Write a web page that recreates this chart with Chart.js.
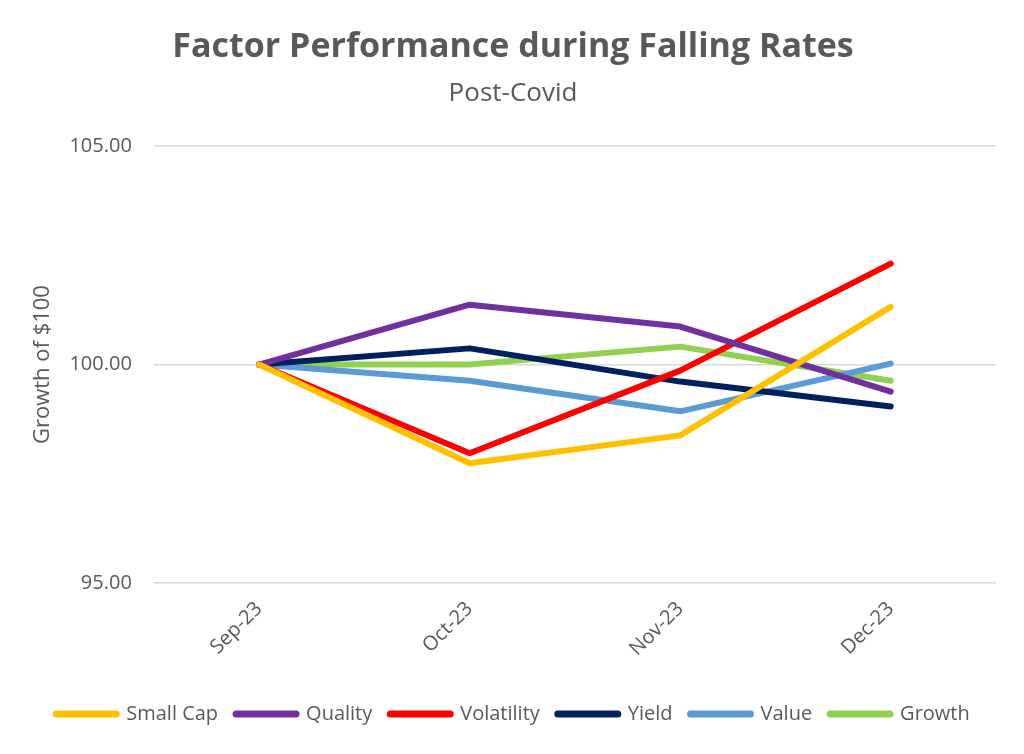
<!DOCTYPE html>
<html>
<head>
<meta charset="utf-8">
<script src="https://cdn.jsdelivr.net/npm/chart.js@4"></script>
<style>
  html, body { margin: 0; padding: 0; background: #fff; }
</style>
</head>
<body>
<canvas id="factorChart" width="1024" height="754"></canvas>
<script>
// ---------- DATA ----------
const months = ["Sep-23", "Oct-23", "Nov-23", "Dec-23"];

const smallCap   = [100.00, 97.74, 98.38, 101.32];
const quality    = [100.00, 101.37, 100.87, 99.38];
const volatility = [100.00, 97.97, 99.86, 102.31];
const yieldF     = [100.00, 100.37, 99.61, 99.04];
const valueF     = [100.00, 99.63, 98.93, 100.02];
const growth     = [100.00, 100.00, 100.41, 99.63];

const yTicks = [95, 100, 105];

const grey = "#595959";
const fontFamily = "'Open Sans', 'Liberation Sans', sans-serif";

function series(label, data, color) {
  return {
    label: label,
    data: data,
    borderColor: color,
    backgroundColor: color,
    borderWidth: 6,
    borderCapStyle: "round",
    borderJoinStyle: "round",
    pointRadius: 0,
    pointHoverRadius: 0,
    pointStyle: "line",
    tension: 0
  };
}

// ---------- CHART ----------
new Chart(document.getElementById("factorChart"), {
  type: "line",
  data: {
    labels: months,
    datasets: [
      series("Small Cap", smallCap, "#FFC000"),
      series("Quality", quality, "#7030A0"),
      series("Volatility", volatility, "#FF0000"),
      series("Yield", yieldF, "#002060"),
      series("Value", valueF, "#5B9BD5"),
      series("Growth", growth, "#92D050")
    ]
  },
  options: {
    responsive: false,
    animation: false,
    layout: { padding: { left: 30, right: 28, top: 27, bottom: 20 } },
    plugins: {
      title: {
        display: true,
        text: "Factor Performance during Falling Rates",
        color: grey,
        font: { family: fontFamily, size: 34, weight: "bold" },
        padding: { top: 0, bottom: 10 }
      },
      subtitle: {
        display: true,
        text: "Post-Covid",
        color: grey,
        font: { family: fontFamily, size: 26 },
        padding: { bottom: 37 }
      },
      legend: {
        position: "bottom",
        labels: {
          usePointStyle: true,
          pointStyleWidth: 60,
          color: grey,
          font: { family: fontFamily, size: 20 },
          padding: 18,
          generateLabels: chart => chart.data.datasets.map((ds, i) => ({
            text: ds.label,
            fillStyle: ds.borderColor,
            strokeStyle: ds.borderColor,
            fontColor: grey,
            lineWidth: 7,
            lineCap: "round",
            pointStyle: "line",
            hidden: !chart.isDatasetVisible(i),
            datasetIndex: i
          }))
        }
      },
      tooltip: { enabled: false }
    },
    scales: {
      x: {
        offset: true,
        grid: { display: false },
        border: { display: false },
        afterFit: axis => { axis.height += 19; },
        ticks: {
          color: grey,
          font: { family: fontFamily, size: 20 },
          maxRotation: 45,
          minRotation: 45,
          padding: 6
        }
      },
      y: {
        min: 95,
        max: 105,
        afterBuildTicks: axis => { axis.ticks = yTicks.map(v => ({ value: v })); },
        grid: { color: "#d9d9d9", lineWidth: 1.5, drawTicks: false },
        border: { display: false },
        title: {
          display: true,
          text: "Growth of $100",
          color: grey,
          font: { family: fontFamily, size: 22 },
          padding: { top: 0, bottom: -9 }
        },
        ticks: {
          color: grey,
          font: { family: fontFamily, size: 20 },
          padding: 22,
          callback: v => Number(v).toFixed(2)
        }
      }
    }
  }
});
</script>
</body>
</html>
